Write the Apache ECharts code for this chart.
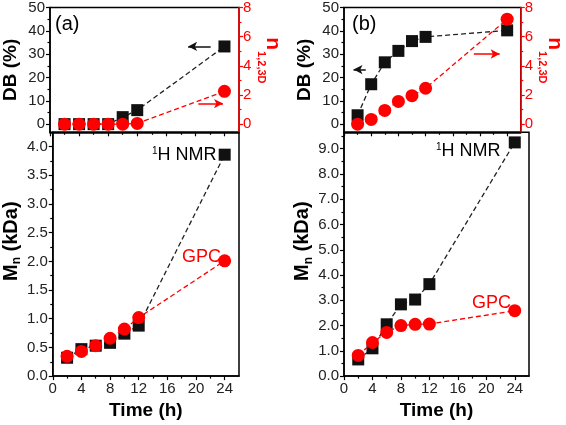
<!DOCTYPE html>
<html><head><meta charset="utf-8">
<script src="https://cdn.jsdelivr.net/npm/echarts@6/dist/echarts.min.js"></script>
<style>html,body{margin:0;padding:0;background:#fff}#c{width:566px;height:425px}</style>
</head><body><div id="c"></div>
<script>
// ---- data ----
const time = [2, 4, 6, 8, 10, 12, 24];
const dbA = [0, 0, 0, 0, 3, 6, 33.3];
const nA = [0, 0, 0, 0, 0, 0.05, 2.25];
const dbB = [3.8, 17.1, 26.5, 31.4, 35.6, 37.4, 40.2];
const nB = [0, 0.32, 0.94, 1.56, 1.95, 2.46, 7.2];
const mnNmrA = [0.32, 0.47, 0.53, 0.58, 0.74, 0.88, 3.86];
const mnGpcA = [0.345, 0.43, 0.53, 0.66, 0.82, 1.02, 2.01];
const mnNmrB = [0.66, 1.1, 2.05, 2.84, 3.03, 3.64, 9.25];
const mnGpcB = [0.82, 1.33, 1.73, 2.0, 2.05, 2.06, 2.59];
// tick values
const xTicks = [0, 4, 8, 12, 16, 20, 24];
const xMinor = [2, 6, 10, 14, 18, 22];
const dbTicks = [0, 10, 20, 30, 40, 50];
const dbMinor = [5, 15, 25, 35, 45];
const nTicks = [0, 2, 4, 6, 8];
const nMinor = [1, 3, 5, 7];
const mnTicksA = [0, 0.5, 1, 1.5, 2, 2.5, 3, 3.5, 4];
const mnMinorA = [0.25, 0.75, 1.25, 1.75, 2.25, 2.75, 3.25, 3.75];
const mnTicksB = [0, 1, 2, 3, 4, 5, 6, 7, 8, 9];
const mnMinorB = [0.5, 1.5, 2.5, 3.5, 4.5, 5.5, 6.5, 7.5, 8.5, 9.5];
// arrow annotations [x1, y1, x2, y2] in data units
const arrowDbA = [22.1, 33.3, 19.0, 33.3];
const arrowNA = [20.4, 1.41, 23.8, 1.41];
const arrowDbB = [3.2, 23.4, 1.4, 23.4];
const arrowNB = [19.1, 4.81, 22.9, 4.81];

const FONT = 'Liberation Sans, Arial, sans-serif';
const BLK = '#000', TXT = '#222', RED = '#ff0000';

function axis(o) {
  const col = o.color || BLK;
  return Object.assign({
    type: 'value', min: o.min, max: o.max, gridIndex: o.grid, position: o.position,
    splitLine: { show: false },
    axisLine: { show: !o.minor, onZero: false, lineStyle: { color: col, width: 1.5 } },
    axisTick: { show: true, inside: false, length: o.minor ? 2.5 : 4, customValues: o.ticks,
      lineStyle: { color: col, width: 1.2 } },
    axisLabel: { show: !!o.labels, customValues: o.ticks, margin: o.margin || 5,
      color: o.labelColor || TXT, fontSize: 15, fontFamily: FONT, formatter: o.fmt },
    z: 5
  }, o.extra || {});
}

const timeName = { name: 'Time (h)', nameLocation: 'middle', nameGap: 19,
  nameTextStyle: { fontSize: 19, fontWeight: 'bold', color: BLK, fontFamily: FONT } };
const dbName = { name: 'DB (%)', nameLocation: 'middle', nameGap: 30,
  nameTextStyle: { fontSize: 19, fontWeight: 'bold', color: BLK, fontFamily: FONT } };
const mnName = { name: '{m|M}{s|n}{m| (kDa)}', nameLocation: 'middle', nameGap: 26,
  nameTextStyle: { color: BLK, fontFamily: FONT, padding: [0, 0, 0, 26],
    rich: { m: { fontSize: 20, fontWeight: 'bold', fontFamily: FONT, color: BLK, verticalAlign: 'top' },
            s: { fontSize: 12, fontWeight: 'bold', fontFamily: FONT, color: BLK, verticalAlign: 'top', padding: [10, 0, 0, 0] } } } };
const nName = { name: '{n|n}{s|1,2,3D}', nameLocation: 'middle', nameGap: 16, nameRotate: -90,
  nameTextStyle: { color: RED, fontFamily: FONT, padding: [0, 19, 0, 0],
    rich: { n: { fontSize: 21, fontWeight: 'bold', fontFamily: FONT, color: RED, verticalAlign: 'top' },
            s: { fontSize: 11, fontWeight: 'bold', fontFamily: FONT, color: RED, verticalAlign: 'top', padding: [17, 0, 0, 1] } } } };

const f0 = v => String(v), f1 = v => v.toFixed(1);

const xAxes = [];
const yAxes = [];
[0, 1, 2, 3].forEach(g => {
  const bottom = g % 2 === 1;
  xAxes.push(axis({ grid: g, min: 0, max: 26, position: 'bottom', ticks: xTicks, labels: bottom, fmt: f0,
    extra: bottom ? timeName : {} }));
  xAxes.push(axis({ grid: g, min: 0, max: 26, position: 'bottom', ticks: xMinor, minor: true }));
});
// grid 0 (top a)
yAxes.push(axis({ grid: 0, min: -3.5, max: 50, position: 'left', ticks: dbTicks, labels: true, fmt: f0, extra: dbName }));
yAxes.push(axis({ grid: 0, min: -3.5, max: 50, position: 'left', ticks: dbMinor, minor: true }));
yAxes.push(axis({ grid: 0, min: -0.56, max: 8, position: 'right', ticks: nTicks, labels: true, fmt: f0, color: RED, labelColor: RED, margin: 4, extra: nName }));
yAxes.push(axis({ grid: 0, min: -0.56, max: 8, position: 'right', ticks: nMinor, minor: true, color: RED }));
// grid 1 (bottom a)
yAxes.push(axis({ grid: 1, min: 0, max: 4.25, position: 'left', ticks: mnTicksA, labels: true, fmt: f1, extra: mnName }));
yAxes.push(axis({ grid: 1, min: 0, max: 4.25, position: 'left', ticks: mnMinorA, minor: true }));
// grid 2 (top b)
yAxes.push(axis({ grid: 2, min: -3.5, max: 50, position: 'left', ticks: dbTicks, labels: true, fmt: f0, extra: dbName }));
yAxes.push(axis({ grid: 2, min: -3.5, max: 50, position: 'left', ticks: dbMinor, minor: true }));
yAxes.push(axis({ grid: 2, min: -0.56, max: 8, position: 'right', ticks: nTicks, labels: true, fmt: f0, color: RED, labelColor: RED, margin: 4, extra: nName }));
yAxes.push(axis({ grid: 2, min: -0.56, max: 8, position: 'right', ticks: nMinor, minor: true, color: RED }));
// grid 3 (bottom b)
yAxes.push(axis({ grid: 3, min: 0, max: 9.65, position: 'left', ticks: mnTicksB, labels: true, fmt: f1, extra: mnName }));
yAxes.push(axis({ grid: 3, min: 0, max: 9.65, position: 'left', ticks: mnMinorB, minor: true }));

function pts(arr) { return time.map((t, i) => [t, arr[i]]); }
function arrowLine(a, color) {
  return { silent: true, symbol: ['none', 'arrow'], symbolSize: [7, 9], label: { show: false },
    lineStyle: { color: color, type: 'solid', width: 1.5 }, animation: false,
    data: [[{ coord: [a[0], a[1]] }, { coord: [a[2], a[3]] }]] };
}
function blackSeries(xi, yi, arr, arrow) {
  const s = { type: 'line', xAxisIndex: xi, yAxisIndex: yi, data: pts(arr), symbol: 'rect', symbolSize: 12,
    itemStyle: { color: '#111' }, lineStyle: { color: '#222', type: [5, 3], width: 1.3 }, z: 3, animation: false };
  if (arrow) s.markLine = arrowLine(arrow, '#111');
  return s;
}
function redSeries(xi, yi, arr, arrow) {
  const s = { type: 'line', xAxisIndex: xi, yAxisIndex: yi, data: pts(arr), symbol: 'circle', symbolSize: 13,
    itemStyle: { color: RED }, lineStyle: { color: RED, type: [5, 3], width: 1.3 }, z: 4, animation: false };
  if (arrow) s.markLine = arrowLine(arrow, RED);
  return s;
}

const series = [
  blackSeries(0, 0, dbA, arrowDbA), redSeries(0, 2, nA, arrowNA),
  blackSeries(2, 4, mnNmrA), redSeries(2, 4, mnGpcA),
  blackSeries(4, 6, dbB, arrowDbB), redSeries(4, 8, nB, arrowNB),
  blackSeries(6, 10, mnNmrB), redSeries(6, 10, mnGpcB)
];

const gridStyle = { show: true, borderColor: BLK, borderWidth: 1.5, backgroundColor: 'transparent', containLabel: false };
const supRich = { s: { fontSize: 10, fontFamily: FONT, color: BLK, padding: [0, 0, 9, 0] },
                  t: { fontSize: 18, fontFamily: FONT, color: BLK } };
const option = {
  animation: false,
  textStyle: { fontFamily: FONT },
  grid: [
    Object.assign({ left: 50, top: 5, width: 189, height: 127.3 }, gridStyle),
    Object.assign({ left: 50, top: 132.3, width: 189, height: 254.4 }, gridStyle),
    Object.assign({ left: 344, top: 5, width: 185, height: 127.3 }, gridStyle),
    Object.assign({ left: 344, top: 132.3, width: 185, height: 254.4 }, gridStyle)
  ],
  xAxis: xAxes,
  yAxis: yAxes,
  series: series,
  graphic: [
    { type: 'text', left: 55, top: 14, style: { text: '(a)', font: '20px ' + FONT, fill: BLK } },
    { type: 'text', left: 352, top: 14, style: { text: '(b)', font: '20px ' + FONT, fill: BLK } },
    { type: 'text', left: 152, top: 146, style: { text: '{s|1}{t|H NMR}', rich: supRich } },
    { type: 'text', left: 182, top: 248, style: { text: 'GPC', font: '18px ' + FONT, fill: RED } },
    { type: 'text', left: 436, top: 142, style: { text: '{s|1}{t|H NMR}', rich: supRich } },
    { type: 'text', left: 472, top: 294, style: { text: 'GPC', font: '18px ' + FONT, fill: RED } }
  ]
};
const chart = echarts.init(document.getElementById('c'), null, { renderer: 'canvas' });
chart.setOption(option);
</script></body></html>
